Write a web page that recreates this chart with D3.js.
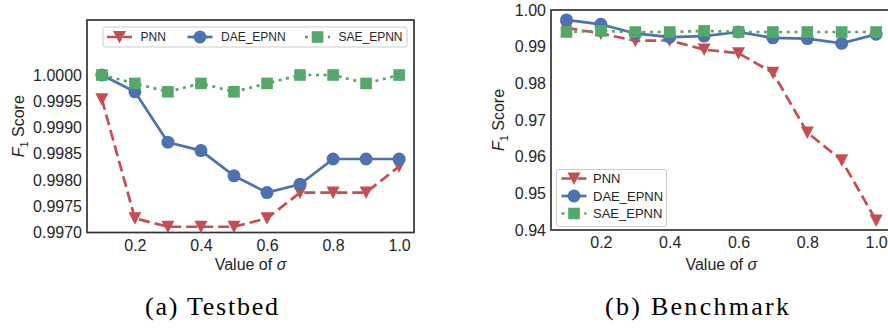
<!DOCTYPE html>
<html>
<head>
<meta charset="utf-8">
<title>F1 score vs sigma</title>
<script src="https://d3js.org/d3.v7.min.js"></script>
<style>
  body { margin: 0; background: #fff; }
  text { font-family: "Liberation Sans", Arial, sans-serif; fill: #262626; }
</style>
</head>
<body>
<div id="chart"></div>
<script>
// values of sigma on the x axis
var sigma = [0.1, 0.2, 0.3, 0.4, 0.5, 0.6, 0.7, 0.8, 0.9, 1.0];
var xTicks = [0.2, 0.4, 0.6, 0.8, 1.0];

// (a) Testbed
var testbedPNN = [0.99954, 0.99727, 0.99711, 0.99711, 0.99711, 0.99727, 0.99776, 0.99776, 0.99776, 0.99826];
var testbedDAE = [1.0000, 0.99968, 0.99872, 0.99856, 0.99808, 0.99776, 0.99792, 0.99840, 0.99840, 0.99840];
var testbedSAE = [1.0000, 0.99984, 0.99968, 0.99984, 0.99968, 0.99984, 1.0000, 1.0000, 0.99984, 1.0000];
var testbedTicks = [0.9970, 0.9975, 0.9980, 0.9985, 0.9990, 0.9995, 1.0000];

// (b) Benchmark
var benchPNN = [0.9951, 0.9936, 0.9916, 0.9917, 0.9892, 0.9882, 0.9829, 0.9666, 0.9590, 0.9426];
var benchDAE = [0.9973, 0.9961, 0.9936, 0.9926, 0.9929, 0.9940, 0.9924, 0.9922, 0.9909, 0.9934];
var benchSAE = [0.9940, 0.9943, 0.9940, 0.9940, 0.9943, 0.9940, 0.9940, 0.9940, 0.9940, 0.9940];
var benchTicks = [0.94, 0.95, 0.96, 0.97, 0.98, 0.99, 1.00];

var seriesNames = ['PNN', 'DAE_EPNN', 'SAE_EPNN'];

var red = '#C44E52', blue = '#4C72B0', green = '#55A868';
var styles = [
  { color: red, dash: '11,5', marker: 'tri' },
  { color: blue, dash: null, marker: 'circle' },
  { color: green, dash: '3,4.6', marker: 'square' }
];

var svg = d3.select('#chart').append('svg')
  .attr('width', 888).attr('height', 329);

function drawMarker(g, type, color) {
  if (type === 'tri') {
    g.append('path').attr('d', 'M-6.5,-6L6.5,-6L0,6.5Z').attr('fill', color);
  } else if (type === 'circle') {
    g.append('circle').attr('r', 6.5).attr('fill', color);
  } else {
    g.append('rect').attr('x', -5.8).attr('y', -5.8)
      .attr('width', 11.6).attr('height', 11.6).attr('fill', color);
  }
}

function panel(opt) {
  var x = d3.scaleLinear().domain([0.055, 1.045]).range([opt.left, opt.right]);
  var y = d3.scaleLinear().domain(opt.yDomain).range([opt.bottom, opt.top]);
  var g = svg.append('g');

  // y axis
  var ya = g.append('g').attr('transform', 'translate(' + opt.left + ',0)')
    .call(d3.axisLeft(y).tickValues(opt.yTicks).tickSize(0).tickPadding(5)
      .tickFormat(d3.format(opt.fmt)));
  ya.select('.domain').remove();
  ya.selectAll('text').style('font-size', '16px').style('font-family', null);

  // x axis
  var xa = g.append('g').attr('transform', 'translate(0,' + opt.bottom + ')')
    .call(d3.axisBottom(x).tickValues(xTicks).tickSize(0).tickPadding(7)
      .tickFormat(d3.format('.1f')));
  xa.select('.domain').remove();
  xa.selectAll('text').style('font-size', '16px').style('font-family', null);

  // frame
  g.append('rect')
    .attr('x', opt.left).attr('y', opt.top)
    .attr('width', opt.right - opt.left).attr('height', opt.bottom - opt.top)
    .attr('fill', 'none').attr('stroke', '#333').attr('stroke-width', 1.7);

  // lines and markers
  var line = d3.line().x(function (d, i) { return x(sigma[i]); }).y(function (d) { return y(d); });
  opt.series.forEach(function (vals, k) {
    var st = styles[k];
    g.append('path').datum(vals).attr('d', line)
      .attr('fill', 'none').attr('stroke', st.color).attr('stroke-width', 2.7)
      .attr('stroke-dasharray', st.dash);
    vals.forEach(function (v, i) {
      var m = g.append('g').attr('transform', 'translate(' + x(sigma[i]) + ',' + y(v) + ')');
      drawMarker(m, st.marker, st.color);
    });
  });

  // axis labels
  g.append('text')
    .attr('x', (opt.left + opt.right) / 2).attr('y', 270)
    .attr('text-anchor', 'middle').style('font-size', '16px')
    .html('Value of <tspan font-style="italic">σ</tspan>');
  var yl = g.append('text')
    .attr('transform', 'translate(' + opt.yLabelX + ',' + ((opt.top + opt.bottom) / 2) + ') rotate(-90)')
    .attr('text-anchor', 'middle').style('font-size', '16px');
  yl.append('tspan').attr('font-style', 'italic').text('F');
  yl.append('tspan').attr('dy', 4).style('font-size', '11px').text('1');
  yl.append('tspan').attr('dy', -4).text(' Score');

  // legend
  var L = opt.legend;
  g.append('rect').attr('x', L.x).attr('y', L.y).attr('width', L.w).attr('height', L.h)
    .attr('rx', 2.5).attr('fill', 'white').attr('fill-opacity', 0.8)
    .attr('stroke', '#cccccc').attr('stroke-width', 1);
  seriesNames.forEach(function (name, k) {
    var st = styles[k];
    var p = L.items[k];
    g.append('line').attr('x1', p[0] - 12.5).attr('x2', p[0] + 12.5)
      .attr('y1', p[1]).attr('y2', p[1])
      .attr('stroke', st.color).attr('stroke-width', 2.7)
      .attr('stroke-dasharray', st.dash);
    drawMarker(g.append('g').attr('transform', 'translate(' + p[0] + ',' + p[1] + ')'), st.marker, st.color);
    g.append('text').attr('x', p[0] + L.gap).attr('y', p[1]).attr('dy', '0.35em')
      .style('font-size', L.font + 'px').text(name);
  });
}

panel({
  left: 87, right: 414, top: 20, bottom: 232.5,
  yDomain: [0.9970, 1.001048], yTicks: testbedTicks, fmt: '.4f', yLabelX: 24,
  series: [testbedPNN, testbedDAE, testbedSAE],
  legend: { x: 103, y: 27, w: 304, h: 20, font: 12, gap: 21,
    items: [[119.5, 37], [200, 37], [317.5, 37]] }
});

panel({
  left: 551, right: 891.6, top: 10, bottom: 230,
  yDomain: [0.94, 1.00], yTicks: benchTicks, fmt: '.2f', yLabelX: 504,
  series: [benchPNN, benchDAE, benchSAE],
  legend: { x: 556.5, y: 169.5, w: 110, h: 57, font: 13, gap: 19,
    items: [[574, 178.5], [574, 196], [574, 213.5]] }
});

// sub-captions
svg.append('text').attr('x', 145).attr('y', 315)
  .attr('textLength', 133).attr('lengthAdjust', 'spacing')
  .style('font-family', '"Liberation Serif", serif').style('font-size', '26px')
  .style('font-weight', 'normal').style('fill', '#000').text('(a) Testbed');
svg.append('text').attr('x', 605).attr('y', 315)
  .attr('textLength', 184).attr('lengthAdjust', 'spacing')
  .style('font-family', '"Liberation Serif", serif').style('font-size', '26px')
  .style('font-weight', 'normal').style('fill', '#000').text('(b) Benchmark');
</script>
</body>
</html>
